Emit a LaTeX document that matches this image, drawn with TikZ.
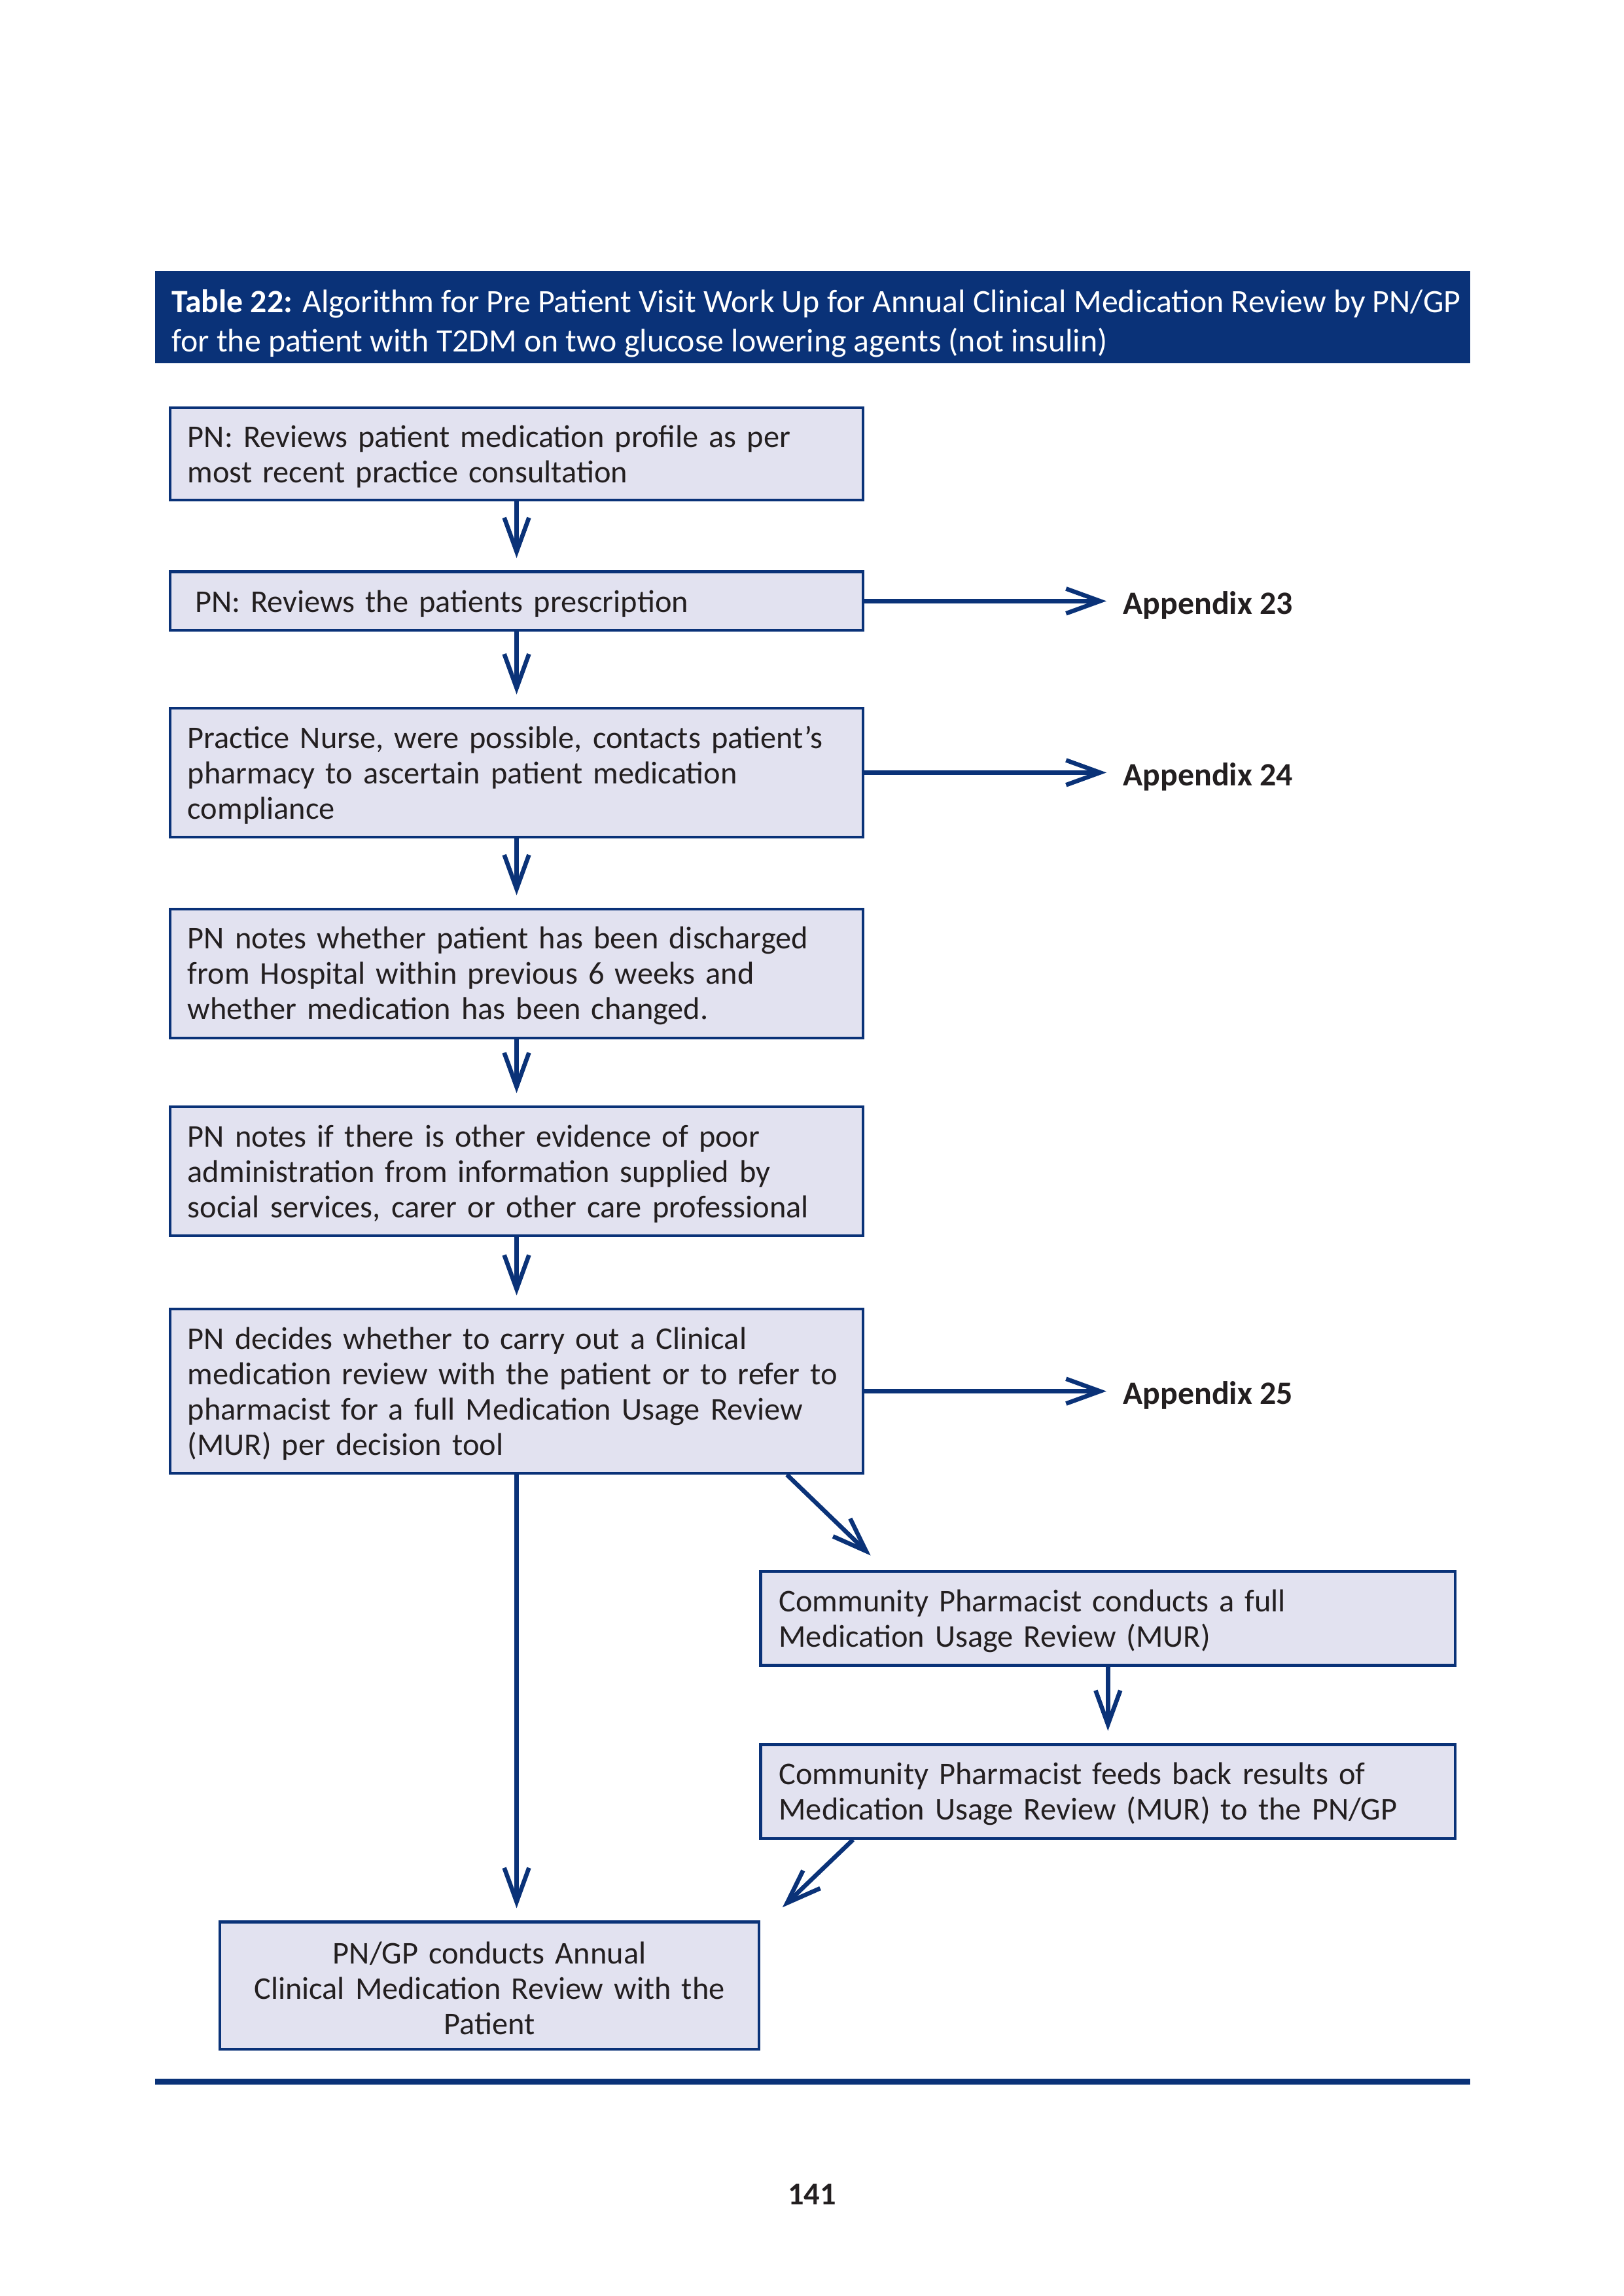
\documentclass[tikz,border=0pt]{standalone}
\usepackage{fontspec}
\setmainfont{Carlito}
\usetikzlibrary{arrows.meta,calc,positioning}
\definecolor{navy}{RGB}{10,50,120}
\definecolor{boxfill}{RGB}{226,226,240}
\definecolor{textgray}{RGB}{35,31,32}
\tikzset{
  stepbox/.style={draw=navy, line width=1pt, fill=boxfill, text=textgray,
    text width=85.1mm, align=left, inner xsep=2.27mm, inner ysep=0pt,
    minimum width=89.67mm, font=\fontsize{11.65}{13}\selectfont,
    execute at begin node={\rule{0pt}{10pt}}},
  flow/.style={draw=navy, line width=1.6pt,
    -{Straight Barb[length=4.4mm,width=3.2mm]}, shorten >=1.6mm},
  appx/.style={anchor=west, inner sep=0pt, text=textgray,
    font=\fontsize{12}{14}\selectfont\bfseries}
}

\begin{document}
\begin{tikzpicture}[x=0.18958mm, y=-0.18958mm]
\useasboundingbox (0,0) rectangle (1107.7,1566.2);

% Title bar.
\node[fill=navy, minimum width=170.05mm, minimum height=11.94mm, inner sep=0pt] (head) at (554.5,216.5) {};
\node[anchor=west, align=left, inner sep=0pt, text=white, font=\fontsize{12}{14.6}\selectfont] (headtext) at ([xshift=2.09mm,yshift=-0.8mm]head.west)
{\textbf{Table 22:} Algorithm for Pre Patient Visit Work Up for Annual Clinical Medication Review by PN/GP\\
for the patient with T2DM on two glucose lowering agents (not insulin)};

% Main column of steps.
\node[stepbox, minimum height=11.94mm] (review) at (352.5,309.5)
{PN: Reviews patient medication profile as per\\most recent practice consultation};
\node[stepbox, minimum height=7.58mm] (prescr) at (352.5,410)
{\hspace*{0.95mm}PN: Reviews the patients prescription};
\node[stepbox, minimum height=16.68mm] (contact) at (352.5,527)
{Practice Nurse, were possible, contacts patient’s\\pharmacy to ascertain patient medication\\compliance};
\node[stepbox, minimum height=16.68mm] (discharge) at (352.5,664)
{PN notes whether patient has been discharged\\from Hospital within previous 6 weeks and\\whether medication has been changed.};
\node[stepbox, minimum height=16.68mm] (admin) at (352.5,799)
{PN notes if there is other evidence of poor\\administration from information supplied by\\social services, carer or other care professional};
\node[stepbox, minimum height=21.23mm] (decide) at (352.5,949)
{PN decides whether to carry out a Clinical\\medication review with the patient or to refer to\\pharmacist for a full Medication Usage Review\\(MUR) per decision tool};

% Pharmacist branch.
\node[stepbox, minimum width=89.86mm, minimum height=12.13mm] (mur) at (756,1104)
{Community Pharmacist conducts a full\\Medication Usage Review (MUR)};
\node[stepbox, minimum width=89.86mm, minimum height=12.13mm] (feedback) at (756,1222)
{Community Pharmacist feeds back results of\\Medication Usage Review (MUR) to the PN/GP};

% Final step.
\node[stepbox, text width=65.2mm, minimum width=69.77mm, minimum height=16.49mm, align=center] (annual) at (334,1354.5)
{PN/GP conducts Annual\\Clinical Medication Review with the\\Patient};

% Appendix labels.
\node[appx] (app23) at (766,413) {Appendix 23};
\node[appx] (app24) at (766,530) {Appendix 24};
\node[appx] (app25) at (766,952) {Appendix 25};

% Arrows down the main column.
\foreach \a/\b in {review/prescr, prescr/contact, contact/discharge, discharge/admin, admin/decide}
\draw[flow] (\a) -- (\b);
\draw[flow] (decide.south) -- (decide.south |- annual.north);

% Arrows to the appendices.
\foreach \a/\b in {prescr/app23, contact/app24, decide/app25}
\draw[flow, shorten >=2.09mm] (\a.east) -- (\a.east -| \b.west);

% Pharmacist branch arrows.
\draw[flow, shorten >=0pt] ([xshift=-10.05mm]decide.south east) -- ([xshift=14.41mm,yshift=1.9mm]mur.north west);
\draw[flow] (mur) -- (feedback);
\draw[flow, shorten >=0pt] ([xshift=12.13mm]feedback.south west) -- ([xshift=2.84mm,yshift=1.71mm]annual.north east);

% Bottom rule and page number.
\draw[navy, line width=2pt] (head.west |- 0,1420) -- (head.east |- 0,1420);
\node[text=textgray, font=\fontsize{11.65}{13}\selectfont\bfseries] (pagenum) at (554,1497) {141};
\end{tikzpicture}
\end{document}
